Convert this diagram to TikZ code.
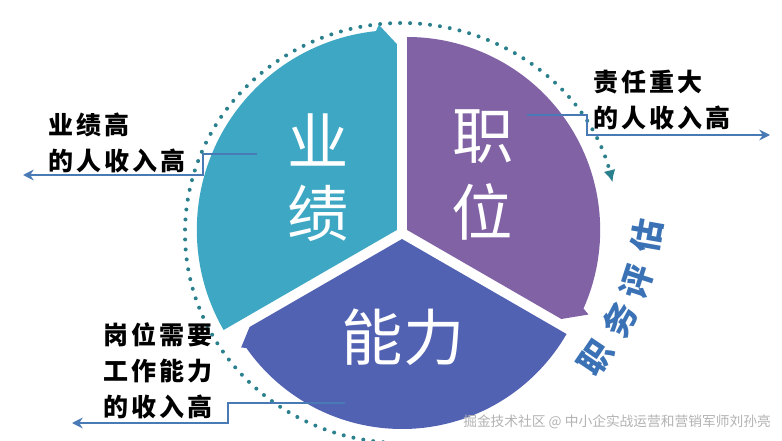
\documentclass[tikz,border=0pt]{standalone}
\usepackage{fontspec}
\usepackage{tikz}
\usetikzlibrary{arrows.meta,calc}
\newfontfamily\cjk{Noto Sans CJK SC}
\newfontfamily\cjklbl{Noto Sans CJK SC}[LetterSpace=12]
\definecolor{yjteal}{HTML}{3EA8C4}
\definecolor{zwpurple}{HTML}{8062A5}
\definecolor{nlblue}{HTML}{5262B2}
\definecolor{ringteal}{HTML}{2A808C}
\definecolor{linkblue}{HTML}{4A7AB6}
\definecolor{evalblue}{HTML}{3B72B5}

\begin{document}
\begin{tikzpicture}[x=0.75pt,y=0.75pt,
    bigchar/.style={text=white,inner sep=0pt,font=\cjk\fontsize{46pt}{50pt}\selectfont},
    lbl/.style={anchor=west,align=left,inner sep=0pt,font=\cjklbl\bfseries\fontsize{18.75pt}{27pt}\selectfont},
    link/.style={draw=linkblue,line width=2pt,-{Stealth[length=8pt,width=8pt]}},
    ring/.style={draw=ringteal,line width=3pt,line cap=round,dash pattern=on 0pt off 7.5pt},
    evalchar/.style={text=evalblue,inner sep=0pt,font=\cjk\bfseries\fontsize{25pt}{27pt}\selectfont}]
    \useasboundingbox (0,0) rectangle (782,440);
    \clip (0,0) rectangle (782,440);

    \coordinate (O) at (402,207);
    \coordinate (Pt) at ($(O)+(150:6)$);
    \coordinate (Pp) at ($(O)+(30:6)$);
    \coordinate (Pb) at ($(O)+(270:6)$);

    \draw[ring,-{Latex[length=9pt,width=9pt]}] ($(O)+(265:217 and 210)$)
        arc[start angle=265,end angle=14,x radius=217,y radius=210];

    \fill[yjteal] (Pt) -- ($(Pt)+(210:200)$) arc[start angle=210,end angle=96,radius=200]
        -- ($(Pt)+(95:206)$) -- ($(Pt)+(90:186)$) -- cycle;
    \fill[zwpurple] (Pp) -- ($(Pp)+(90:193)$) arc[start angle=90,end angle=-24,radius=193]
        -- ($(Pp)+(-25:200)$) -- ($(Pp)+(-30:178)$) -- cycle;
    \fill[nlblue] (Pb) -- ($(Pb)+(-30:190)$) arc[start angle=-30,end angle=-145,radius=190]
        -- ($(Pb)+(-146:194)$) -- ($(Pb)+(-150:176)$) -- cycle;

    \node[bigchar] (ye) at (318,300) {业};
    \node[bigchar] (ji) at (318,227) {绩};
    \node[bigchar] (zhi) at (483,303) {职};
    \node[bigchar] (wei) at (482,228) {位};
    \node[bigchar] (nengli) at (403,103) {能力};

    \node[lbl] (yjlbl) at (48,297) {业绩高\\的人收入高};
    \node[lbl] (zwlbl) at (593,340) {责任重大\\的人收入高};
    \node[lbl] (nllbl) at (103,69) {岗位需要\\工作能力\\的收入高};

    \coordinate (yjfrom) at (257,286);
    \coordinate (yjto) at (23,265);
    \draw[link] (yjfrom) -- ++(-54,0) |- (yjto);
    \coordinate (zwfrom) at (527,325);
    \coordinate (zwto) at (770,305);
    \draw[link] (zwfrom) -- ++(60,0) |- (zwto);
    \coordinate (nlfrom) at (345,37);
    \coordinate (nlto) at (72,17);
    \draw[link] (nlfrom) -- ++(-117,0) |- (nlto);

    \node[evalchar,rotate=56] (evzhi) at (596,82) {职};
    \node[evalchar,rotate=62] (evwu) at (620,120) {务};
    \node[evalchar,rotate=72] (evping) at (637,158) {评};
    \node[evalchar,rotate=80] (evgu) at (647,204) {估};

    \node[anchor=west,inner sep=0pt,text=gray!60,font=\cjk\fontsize{10.3pt}{12pt}\selectfont] (mark)
        at (463,18) {掘金技术社区 @ 中小企实战运营和营销军师刘孙亮};
\end{tikzpicture}
\end{document}
